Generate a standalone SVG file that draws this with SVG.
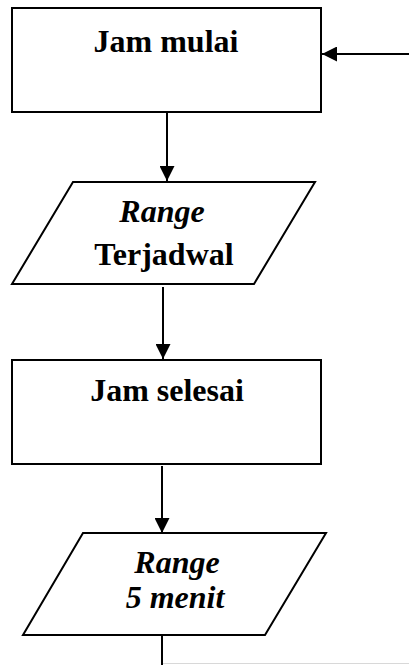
<svg xmlns="http://www.w3.org/2000/svg" width="409" height="665" viewBox="0 0 409 665">
  <style>
    .shape { fill: #fff; stroke: #000; stroke-width: 2; }
    .edge { fill: none; stroke: #000; stroke-width: 2; }
    .lbl { font-family: "Liberation Serif", "Times New Roman", serif; font-weight: bold; font-size: 32px; fill: #000; text-anchor: middle; }
    .it { font-style: italic; }
  </style>
  <defs>
    <marker id="arrow" markerUnits="userSpaceOnUse" markerWidth="16" markerHeight="15" refX="15" refY="7.5" orient="auto">
      <path d="M0,0 L15,7.5 L0,15 Z" fill="#000"/>
    </marker>
  </defs>

  <rect width="409" height="665" fill="#fff"/>

  <g id="edges">
    <line class="edge" x1="409" y1="54" x2="322" y2="54" marker-end="url(#arrow)"/>
    <line class="edge" x1="167" y1="112" x2="167" y2="181" marker-end="url(#arrow)"/>
    <line class="edge" x1="163" y1="287" x2="163" y2="359" marker-end="url(#arrow)"/>
    <line class="edge" x1="162" y1="466" x2="162" y2="533" marker-end="url(#arrow)"/>
    <line class="edge" x1="162" y1="635" x2="162" y2="665"/>
    <line x1="163" y1="663.5" x2="409" y2="663.5" stroke="#d8d8d8" stroke-width="1"/>
  </g>

  <g id="jam-mulai">
    <rect class="shape" x="12" y="8" width="309" height="104"/>
    <text class="lbl" x="166" y="52">Jam mulai</text>
  </g>

  <g id="range-terjadwal">
    <polygon class="shape" points="73,182 315,182 254,284 12,284"/>
    <text class="lbl it" x="162" y="222">Range</text>
    <text class="lbl" x="164" y="265">Terjadwal</text>
  </g>

  <g id="jam-selesai">
    <rect class="shape" x="12" y="360" width="309" height="104"/>
    <text class="lbl" x="167" y="401">Jam selesai</text>
  </g>

  <g id="range-5-menit">
    <polygon class="shape" points="83,533 326,533 265,635 23,635"/>
    <text class="lbl it" x="177" y="573">Range</text>
    <text class="lbl it" x="175" y="608">5 menit</text>
  </g>
</svg>
